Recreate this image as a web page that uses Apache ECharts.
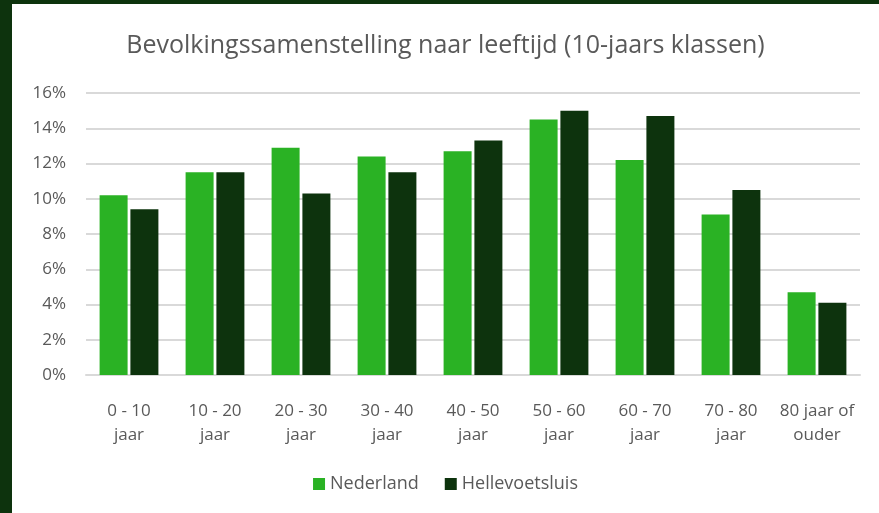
<!DOCTYPE html>
<html>
<head>
<meta charset="utf-8">
<script src="https://cdn.jsdelivr.net/npm/echarts@6/dist/echarts.min.js"></script>
<style>
  html, body { margin: 0; padding: 0; background: #0d330d; }
  #chart { position: absolute; left: 12px; top: 4px; width: 867px; height: 509px; background: #fff; }
</style>
</head>
<body>
<div id="chart"></div>
<script>
  // leeftijdsklassen en aandelen (%)
  const categories = ['0 - 10\njaar', '10 - 20\njaar', '20 - 30\njaar', '30 - 40\njaar', '40 - 50\njaar',
    '50 - 60\njaar', '60 - 70\njaar', '70 - 80\njaar', '80 jaar of\nouder'];
  const nederland = [10.2, 11.5, 12.9, 12.4, 12.7, 14.5, 12.2, 9.1, 4.7];
  const hellevoetsluis = [9.4, 11.5, 10.3, 11.5, 13.3, 15.0, 14.7, 10.5, 4.1];

  const font = 'Open Sans';
  const grey = '#595959';

  let myChart = echarts.init(document.getElementById('chart'));
  myChart.setOption({
    animation: false,
    title: {
      text: 'Bevolkingssamenstelling naar leeftijd (10-jaars klassen)',
      left: 'center',
      top: 24,
      textStyle: { fontFamily: font, fontSize: 25, fontWeight: 'normal', color: grey }
    },
    legend: {
      data: ['Nederland', 'Hellevoetsluis'],
      left: 'center',
      top: 466,
      itemWidth: 12,
      itemHeight: 12,
      itemGap: 26,
      icon: 'rect',
      textStyle: { fontFamily: font, fontSize: 18, color: grey }
    },
    grid: { left: 74, right: 19, top: 89, bottom: 138, containLabel: false },
    xAxis: {
      type: 'category',
      data: categories,
      axisLine: { lineStyle: { color: '#d9d9d9', width: 2 } },
      axisTick: { show: false },
      axisLabel: { fontFamily: font, fontSize: 17, color: grey, lineHeight: 24, margin: 24, interval: 0 }
    },
    yAxis: {
      type: 'value',
      min: 0,
      max: 16,
      interval: 2,
      axisLabel: { formatter: '{value}%', fontFamily: font, fontSize: 17, color: grey, margin: 20 },
      splitLine: { lineStyle: { color: '#d9d9d9', width: 2 } }
    },
    series: [
      {
        name: 'Nederland',
        type: 'bar',
        data: nederland,
        barWidth: 28,
        barGap: '10%',
        itemStyle: { color: '#2ab224' }
      },
      {
        name: 'Hellevoetsluis',
        type: 'bar',
        data: hellevoetsluis,
        barWidth: 28,
        itemStyle: { color: '#0d330d' }
      }
    ]
  });
</script>
</body>
</html>
